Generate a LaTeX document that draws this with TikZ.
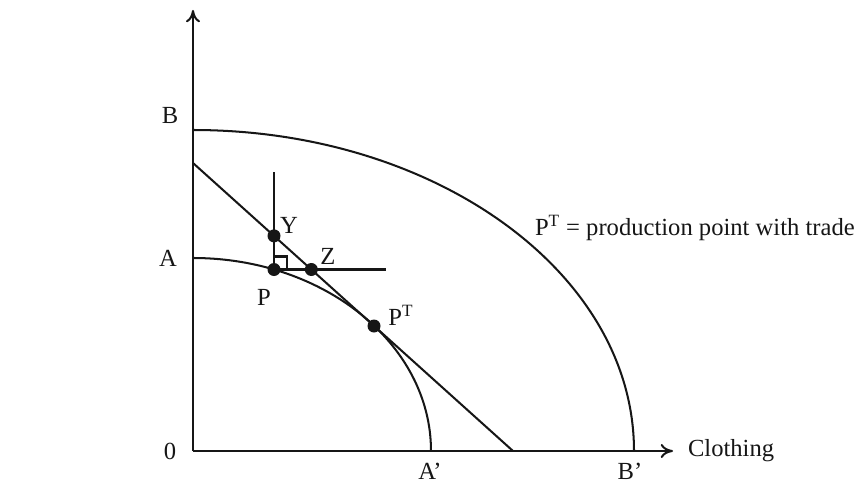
\documentclass[tikz,border=0pt]{standalone}
\usepackage{fontspec}
\setmainfont{Liberation Serif}
\usetikzlibrary{positioning,arrows.meta,calc}
\definecolor{ink}{HTML}{161616}

\begin{document}
\begin{tikzpicture}[x=0.02cm,y=0.02cm,line width=1.15pt,
    lbl/.style={font=\fontsize{14}{16}\selectfont,text=ink,inner sep=0pt},
    dot/.style={circle,fill=ink,inner sep=0pt,minimum size=7.4pt},
    axis/.style={draw=ink,-{To[length=7pt,width=8pt]}}]
      \useasboundingbox (-193,-33) rectangle (662,451);
      % axes and frontier end points
      \coordinate (O) at (0,0);
      \coordinate (ytop) at (0,441);
      \coordinate (xend) at (480,0);
      \coordinate (B) at (0,321);
      \coordinate (Bp) at (441,0);
      \coordinate (A) at (0,193);
      \coordinate (Ap) at (238,0);
      \coordinate (tA) at (0,288);
      \coordinate (tB) at (320,0);
      \coordinate (P) at (81,181.5);
      \coordinate (Pup) at (81,279);
      \coordinate (Pright) at (193,181.5);
      \coordinate (PT) at (181,125);
      \coordinate (Y) at (intersection of tA--tB and P--Pup);
      \coordinate (Z) at (intersection of tA--tB and P--Pright);
      \draw[axis] (O) -- (ytop);
      \draw[axis] (O) -- (xend);
      \draw[ink] (B) arc[start angle=90,end angle=0,x radius=441,y radius=321];
      \draw[ink] (A) arc[start angle=90,end angle=0,x radius=238,y radius=193];
      \draw[ink] (tA) -- (tB);
      \draw[ink] (Pup) -- (P) -- (Pright);
      \draw[ink] ($(P)+(0,13)$) -| ($(P)+(13,0)$);
      \node[dot] (dP) at (P) {};
      \node[dot] (dY) at (Y) {};
      \node[dot] (dZ) at (Z) {};
      \node[dot] (dPT) at (PT) {};
      \node[lbl] (lO) at (-23,0) {0};
      \node[lbl] (lB) at (-23,336) {B};
      \node[lbl] (lA) at (-25,193) {A};
      \node[lbl] (lAp) at (237,-20) {A’};
      \node[lbl] (lBp) at (437,-20) {B’};
      \node[lbl,anchor=west] (lCloth) at (494,0) {Clothing};
      \node[lbl] (lY) at (96,226) {Y};
      \node[lbl] (lZ) at (135,195) {Z};
      \node[lbl] (lP) at (71,154) {P};
      \node[lbl] (lPT) at (208,136) {P\textsuperscript{T}};
      \node[lbl,anchor=west] (note) at (341,223) {P\textsuperscript{T} = production point with trade};
    \end{tikzpicture}
\end{document}
